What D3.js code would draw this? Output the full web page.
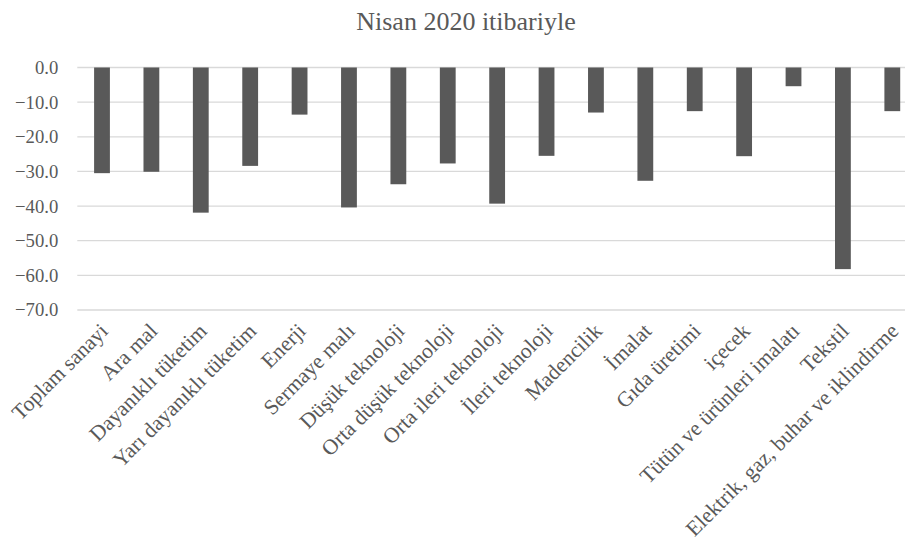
<!DOCTYPE html>
<html>
<head>
<meta charset="utf-8">
<script src="https://cdn.jsdelivr.net/npm/d3@7"></script>
<style>
  body { margin: 0; background: #fff; }
</style>
</head>
<body>
<div id="chart"></div>
<script>
const categories = [
  "Toplam sanayi", "Ara mal", "Dayanıklı tüketim", "Yarı dayanıklı tüketim",
  "Enerji", "Sermaye malı", "Düşük teknoloji", "Orta düşük teknoloji",
  "Orta ileri teknoloji", "İleri teknoloji", "Madencilik", "İmalat",
  "Gıda üretimi", "içecek", "Tütün ve ürünleri imalatı", "Tekstil",
  "Elektrik, gaz, buhar ve iklindirme"
];
const values = [
  -30.5, -30.1, -41.9, -28.4, -13.6, -40.4, -33.7, -27.7,
  -39.3, -25.5, -13.0, -32.7, -12.6, -25.6, -5.4, -58.2, -12.6
];
const yTicks = [0, -10, -20, -30, -40, -50, -60, -70];
const title = "Nisan 2020 itibariyle";

const FONT = "'Liberation Serif', 'Times New Roman', Times, serif";
const width = 905, height = 545;
const margin = { top: 67.5, right: -12, bottom: 235, left: 77.3 };

const svg = d3.select("#chart")
  .append("svg")
  .attr("width", width)
  .attr("height", height);

const x = d3.scaleBand()
  .domain(categories)
  .range([margin.left, width - margin.right])
  .padding(0);

const y = d3.scaleLinear()
  .domain([-70, 0])
  .range([height - margin.bottom, margin.top]);

const barW = x.bandwidth() * 0.32;

// gridlines
svg.append("g")
  .selectAll("line")
  .data(yTicks)
  .join("line")
  .attr("x1", margin.left)
  .attr("x2", width - margin.right)
  .attr("y1", d => y(d))
  .attr("y2", d => y(d))
  .attr("stroke", "#d9d9d9")
  .attr("stroke-width", 1.3);

// y axis labels
const yAxis = svg.append("g")
  .attr("transform", "translate(" + (margin.left - 19) + ",0)")
  .call(d3.axisLeft(y).tickValues(yTicks).tickFormat(d3.format(".1f")).tickSize(0).tickPadding(0))
  .attr("font-family", FONT)
  .attr("font-size", 18.7);
yAxis.select(".domain").remove();
yAxis.selectAll("text").attr("fill", "#595959");

// bars
svg.append("g")
  .selectAll("rect")
  .data(values)
  .join("rect")
  .attr("x", (d, i) => x(categories[i]) + x.bandwidth() / 2 - barW / 2)
  .attr("y", y(0))
  .attr("width", barW)
  .attr("height", d => y(d) - y(0))
  .attr("fill", "#595959");

// category labels
svg.append("g")
  .attr("font-family", FONT)
  .attr("font-size", 21.5)
  .attr("fill", "#595959")
  .selectAll("text")
  .data(categories)
  .join("text")
  .attr("transform", d => "translate(" + (x(d) + x.bandwidth() / 2 + 2) + "," + (y(-70) + 17) + ") rotate(-45)")
  .attr("text-anchor", "end")
  .attr("dy", "0.35em")
  .text(d => d);

// title
svg.append("text")
  .attr("x", 466)
  .attr("y", 30)
  .attr("text-anchor", "middle")
  .attr("font-family", FONT)
  .attr("font-size", 26)
  .attr("fill", "#595959")
  .text(title);
</script>
</body>
</html>
